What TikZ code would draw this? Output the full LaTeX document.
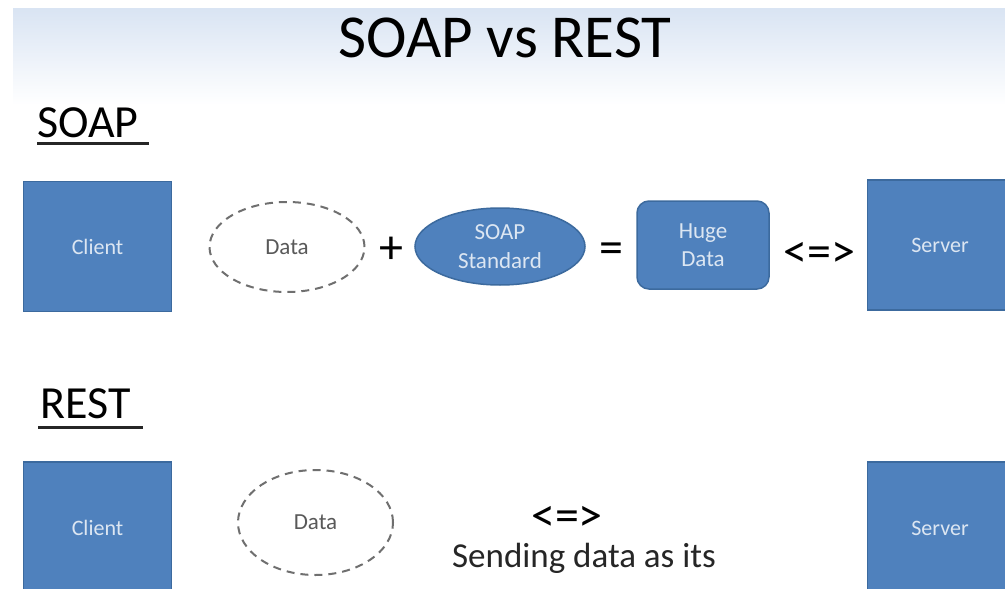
\documentclass[tikz,border=0pt]{standalone}
\usepackage{fontspec}
\setmainfont{Carlito}
\usetikzlibrary{shapes.geometric}
\definecolor{boxblue}{HTML}{4F81BD}
\definecolor{boxedge}{HTML}{3C6A9E}
\definecolor{boxtext}{HTML}{DCE6F2}
\definecolor{dashgray}{HTML}{6F6F6F}
\definecolor{datatext}{HTML}{595959}
\definecolor{bgblue}{HTML}{D9E4F3}
\tikzset{
  x=1pt, y=-1pt,
  bigbox/.style={rectangle, fill=boxblue, draw=boxedge, line width=1.5pt,
    minimum width=148pt, minimum height=130pt, text=boxtext,
    font=\fontsize{22}{26}\selectfont},
  dataell/.style={ellipse, draw=dashgray, line width=2pt, dash pattern=on 8pt off 6pt,
    minimum width=155pt, minimum height=90pt, text=datatext, font=\fontsize{23}{27}\selectfont},
  stdell/.style={ellipse, fill=boxblue, draw=boxedge, line width=1.5pt,
    minimum width=170pt, minimum height=77pt, inner sep=0pt, text=boxtext,
    align=center, font=\fontsize{23}{29}\selectfont},
  hugebox/.style={rectangle, rounded corners=12pt, fill=boxblue, draw=boxedge, line width=1.5pt,
    minimum width=132pt, minimum height=88pt, text=boxtext, align=center,
    font=\fontsize{23}{28}\selectfont},
  heading/.style={anchor=base west, inner sep=0pt, font=\fontsize{46}{50}\selectfont},
  ul/.style={line width=3pt, draw=black!85},
  symb/.style={inner sep=0pt, font=\fontsize{48}{52}\selectfont},
  arr/.style={inner sep=0pt, font=\fontsize{48}{52}\selectfont},
}
\begin{document}
\begin{tikzpicture}
\useasboundingbox (0,0) rectangle (1005,589);
\clip (0,0) rectangle (1005,589);
\fill[white] (0,0) rectangle (1005,589);
\shade[top color=bgblue, bottom color=white] (13,8) rectangle (1005,105);

\node[anchor=base, inner sep=0pt, font=\fontsize{61}{66}\selectfont] (title) at (505,57) {SOAP vs REST};

% SOAP row
\node[heading] (soaph) at (37,137) {SOAP};
\draw[ul] ([yshift=-6pt]soaph.base west) -- ([yshift=-6pt,xshift=10pt]soaph.base east);

\node[bigbox] (sclient) at (97.5,246.5) {Client};
\node[dataell] (sdata) at (287,247) {Data};
\node[symb] (plus) at (391,250) {+};
\node[stdell] (std) at (500,246.5) {SOAP\\Standard};
\node[symb] (eq) at (611,253) {=};
\node[hugebox] (huge) at (703,245) {Huge\\Data};
\node[arr] (slr) at (819.5,255) {<=>};
\node[bigbox, minimum width=145pt] (sserver) at (940,245) {Server};

% REST row
\node[heading] (resth) at (40,418) {REST};
\draw[ul] ([yshift=-9pt,xshift=-2pt]resth.base west) -- ([yshift=-9pt,xshift=12pt]resth.base east);

\node[bigbox, minimum height=132pt] (rclient) at (97.5,528) {Client};
\node[dataell, minimum height=105pt] (rdata) at (315.5,522.5) {Data};
\node[arr] (rlr) at (567,519) {<=>};
\node[anchor=base, inner sep=0pt, font=\fontsize{35}{39}\selectfont, text=black!85] (send) at (584,567) {Sending data as its};
\node[bigbox, minimum width=145pt, minimum height=132pt] (rserver) at (940,528) {Server};
\end{tikzpicture}
\end{document}
